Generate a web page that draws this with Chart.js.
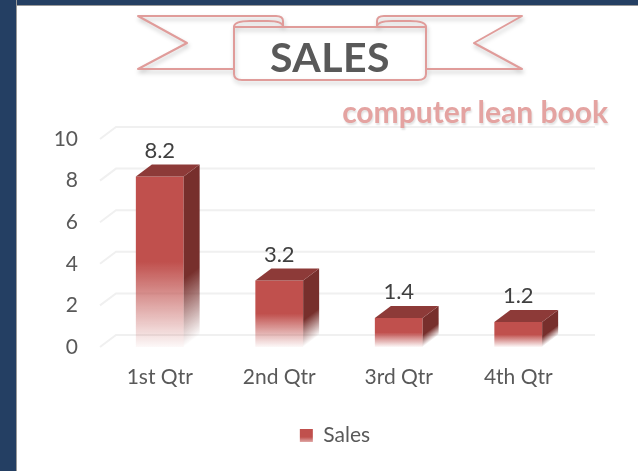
<!DOCTYPE html>
<html>
<head>
<meta charset="utf-8">
<title>Sales</title>
<script src="https://cdn.jsdelivr.net/npm/chart.js@4"></script>
<style>
  html, body { margin: 0; padding: 0; background: #fff; }
  body { width: 638px; height: 471px; position: relative; overflow: hidden; font-family: Lato, sans-serif; }
  #band-top { position: absolute; left: 0; top: 0; width: 638px; height: 5px; background: #243f63; border-bottom: 1px solid #9a9a9a; }
  #band-left { position: absolute; left: 0; top: 0; width: 16px; height: 471px; background: #243f63; border-right: 1px solid #9a9a9a; }
  #ribbon { position: absolute; left: 0; top: 0; filter: drop-shadow(1px 3px 2px rgba(0,0,0,.22)); }
  #title { position: absolute; left: 234px; width: 192px; top: 33px; text-align: center; font: bold 41px/48px Lato, sans-serif; color: #595959; letter-spacing: .5px; }
  #brand { position: absolute; right: 30px; top: 94px; font: bold 30px/34px Lato, sans-serif; color: #e4a3a1; text-shadow: 1px 2px 2px rgba(0,0,0,.12); white-space: nowrap; }
  #chart { position: absolute; left: 0; top: 0; }
</style>
</head>
<body>
<div id="band-top"></div>
<div id="band-left"></div>
<canvas id="chart" width="638" height="471"></canvas>
<svg id="ribbon" width="638" height="100" fill="none" stroke="#e09c9a" stroke-width="2" stroke-linejoin="round">
  <path d="M234 69H138L187 43L138 16H276Q283 16 283 21V27"/>
  <path d="M426 69H522L474 43L522 16H384Q377 16 377 21V27"/>
  <path d="M234 27Q234 21 250 21H268Q283 21 283 27"/>
  <path d="M426 27Q426 21 410 21H392Q377 21 377 27"/>
  <path d="M234 27H426V74Q426 80 418 80H242Q234 80 234 74Z"/>
</svg>
<div id="title">SALES</div>
<div id="brand">computer lean book</div>

<script>
const categories = ["1st Qtr", "2nd Qtr", "3rd Qtr", "4th Qtr"];
const salesValues = [8.2, 3.2, 1.4, 1.2];
const seriesName = "Sales";

const depthX = 16;
const depthY = 12;

// same fade on all the bars: solid on the top half, nearly white at the bottom
function fade(ctx, y0, y1, rgb, endAlpha) {
  const g = ctx.createLinearGradient(0, y0, 0, y1);
  g.addColorStop(0, `rgb(${rgb})`);
  g.addColorStop(0.5, `rgb(${rgb})`);
  g.addColorStop(1, `rgba(${rgb},${endAlpha})`);
  return g;
}

// back wall gridlines, drawn before the bars
const wallGrid = {
  id: "wallGrid",
  beforeDatasetsDraw(chart) {
    const { ctx, chartArea, scales } = chart;
    ctx.save();
    ctx.strokeStyle = "#f0f0f0";
    ctx.lineWidth = 2;
    scales.y.ticks.forEach(t => {
      const y = scales.y.getPixelForValue(t.value);
      ctx.beginPath();
      ctx.moveTo(chartArea.left, y);
      ctx.lineTo(chartArea.left + depthX, y - depthY);
      ctx.lineTo(chartArea.right + depthX + 1, y - depthY);
      ctx.stroke();
    });
    ctx.restore();
  }
};

// side and top faces of every bar + the value labels
const barFaces = {
  id: "barFaces",
  afterDatasetsDraw(chart) {
    const { ctx } = chart;
    chart.getDatasetMeta(0).data.forEach((bar, i) => {
      const right = bar.x + bar.width / 2;
      const left = bar.x - bar.width / 2;
      const h = bar.base - bar.y;

      ctx.save();
      ctx.transform(1, -depthY / depthX, 0, 1, right, bar.y);
      const side = ctx.createLinearGradient(0, 0, 0, h);
      side.addColorStop(0, "rgb(119,47,44)");
      side.addColorStop(0.6, "rgb(119,47,44)");
      side.addColorStop(1, "rgba(119,47,44,0)");
      ctx.fillStyle = side;
      ctx.fillRect(0, 0, depthX, h);
      ctx.restore();

      ctx.save();
      ctx.fillStyle = "#8d3a38";
      ctx.beginPath();
      ctx.moveTo(left, bar.y);
      ctx.lineTo(left + depthX, bar.y - depthY);
      ctx.lineTo(right + depthX, bar.y - depthY);
      ctx.lineTo(right, bar.y);
      ctx.closePath();
      ctx.fill();

      ctx.fillStyle = "#404040";
      ctx.font = "22px Lato, sans-serif";
      ctx.textAlign = "center";
      ctx.textBaseline = "middle";
      ctx.fillText(salesValues[i].toFixed(1), bar.x, bar.y - 26);
      ctx.restore();
    });
  }
};

// legend sits right of the plot centre in the original
const legendShift = {
  id: "legendShift",
  afterLayout(chart) {
    chart.legend.left += 46;
    chart.legend.right += 46;
  }
};

new Chart(document.getElementById("chart"), {
  type: "bar",
  data: {
    labels: categories,
    datasets: [{
      label: seriesName,
      data: salesValues,
      barPercentage: 0.4,
      categoryPercentage: 1,
      backgroundColor(c) {
        if (!c.parsed) return "#c0504d";
        const y = c.chart.scales.y;
        return fade(c.chart.ctx, y.getPixelForValue(c.parsed.y), y.getPixelForValue(0), "192,80,77", 0.04);
      }
    }]
  },
  options: {
    responsive: false,
    animation: false,
    layout: { padding: { left: 0, right: 60, top: 139, bottom: 15 } },
    plugins: {
      title: { display: false },
      tooltip: { enabled: false },
      legend: {
        position: "bottom",
        labels: {
          boxWidth: 13,
          boxHeight: 13,
          padding: 10,
          color: "#595959",
          font: { family: "Lato, sans-serif", size: 21 },
          generateLabels: chart => [{
            text: seriesName,
            fontColor: "#595959",
            fillStyle: fade(chart.ctx, 429, 445, "192,80,77", 0.2),
            lineWidth: 0,
            datasetIndex: 0
          }]
        }
      }
    },
    scales: {
      x: {
        grid: { display: false },
        border: { display: false },
        ticks: { color: "#595959", padding: 10, font: { family: "Lato, sans-serif", size: 21 } },
        afterFit(s) { s.height = 68; }
      },
      y: {
        min: 0,
        max: 10,
        grid: { display: false },
        border: { display: false },
        ticks: { stepSize: 2, color: "#595959", padding: 14, font: { family: "Lato, sans-serif", size: 21 } },
        afterFit(s) { s.width = 100; }
      }
    }
  },
  plugins: [wallGrid, barFaces, legendShift]
});
</script>
</body>
</html>
